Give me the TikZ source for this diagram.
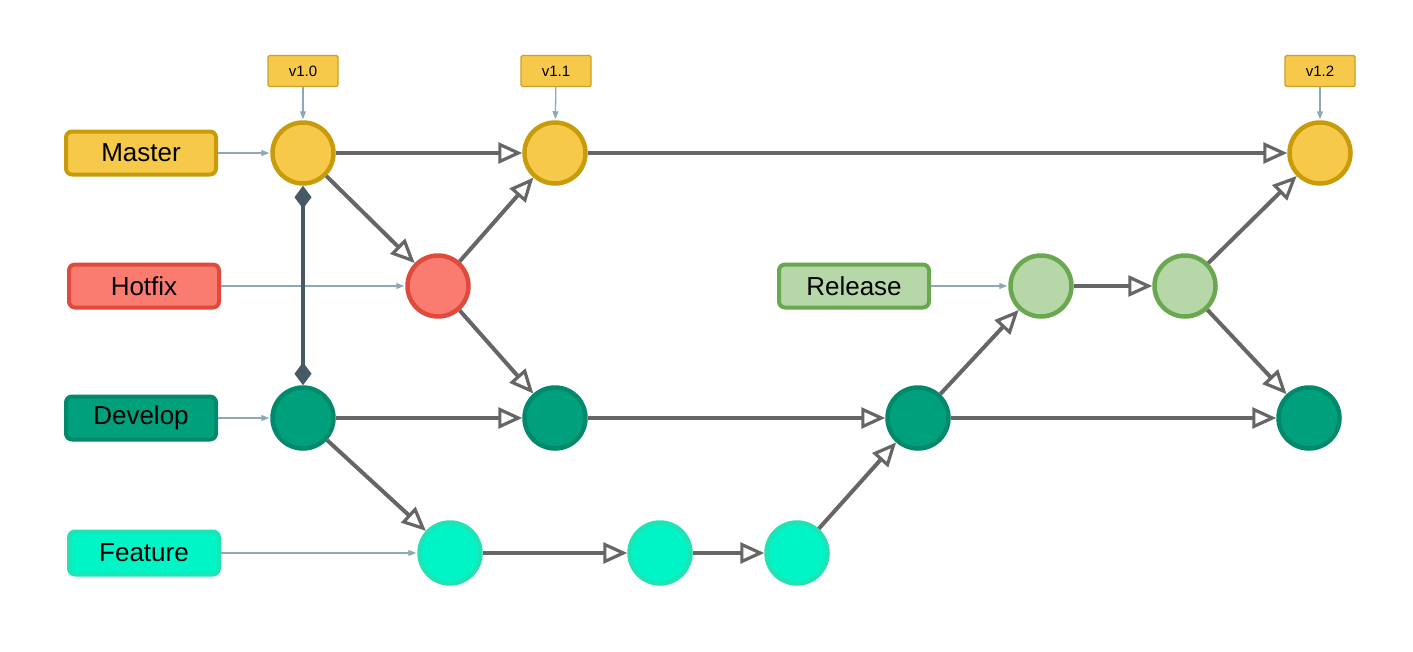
\documentclass[tikz,border=0pt]{standalone}
\usepackage{fontspec}
\setmainfont{Liberation Sans}
\usetikzlibrary{arrows.meta}

\definecolor{masterfill}{HTML}{F6C94B}
\definecolor{masterline}{HTML}{C89B0A}
\definecolor{hotfixfill}{HTML}{FA7B70}
\definecolor{hotfixline}{HTML}{E04A3C}
\definecolor{devfill}{HTML}{00A07C}
\definecolor{devline}{HTML}{00896A}
\definecolor{featfill}{HTML}{00F5C6}
\definecolor{featline}{HTML}{1FE3B5}
\definecolor{relfill}{HTML}{B6D7A8}
\definecolor{relline}{HTML}{6AA84F}
\definecolor{tagline}{HTML}{C9A227}
\definecolor{flowgray}{HTML}{666666}
\definecolor{pointer}{HTML}{8FA8B8}
\definecolor{slate}{HTML}{455A64}

\tikzset{
  branch/.style={draw, rounded corners=6pt, line width=4pt, minimum width=150pt,
    minimum height=43pt, font=\fontsize{26}{30}\selectfont, inner sep=0pt},
  tagbox/.style={draw=tagline, fill=masterfill, line width=1.4pt, rounded corners=1.5pt,
    minimum width=70pt, minimum height=31pt, font=\fontsize{15}{17}\selectfont, inner sep=0pt},
  commit/.style={circle, draw, line width=4.5pt, minimum size=61pt, inner sep=0pt},
  flow/.style={draw=flowgray, line width=4pt,
    -{Triangle[open, length=24pt, width=21pt, line width=3.2pt]}},
  ptr/.style={draw=pointer, line width=1.3pt, -{Triangle[length=8pt, width=6pt]}, shorten >=1pt},
  link/.style={draw=slate, line width=3.5pt, {Diamond[length=23pt, width=17pt]}-{Diamond[length=23pt, width=17pt]}}
}

\begin{document}
\begin{tikzpicture}[x=1pt, y=-1pt]
\useasboundingbox (0,0) rectangle (1413,651);

% branch labels
\node[branch, fill=masterfill, draw=masterline] (lmaster) at (141,153) {Master};
\node[branch, fill=hotfixfill, draw=hotfixline] (lhotfix) at (144,286) {Hotfix};
\node[branch, fill=devfill, draw=devline] (ldevelop) at (141,418) {Develop};
\node[branch, fill=featfill, draw=featline] (lfeature) at (144,553) {Feature};
\node[branch, fill=relfill, draw=relline] (lrelease) at (854,286) {Release};

% version tags
\node[tagbox] (t10) at (303,71) {v1.0};
\node[tagbox] (t11) at (556,71) {v1.1};
\node[tagbox] (t12) at (1320,71) {v1.2};

% commits
\node[commit, fill=masterfill, draw=masterline] (m1) at (303,153) {};
\node[commit, fill=masterfill, draw=masterline] (m2) at (555,153) {};
\node[commit, fill=masterfill, draw=masterline] (m3) at (1320,153) {};
\node[commit, fill=hotfixfill, draw=hotfixline] (h1) at (438,286) {};
\node[commit, fill=devfill, draw=devline] (d1) at (303,418) {};
\node[commit, fill=devfill, draw=devline] (d2) at (555,418) {};
\node[commit, fill=devfill, draw=devline] (d3) at (918,418) {};
\node[commit, fill=devfill, draw=devline] (d4) at (1309,418) {};
\node[commit, fill=featfill, draw=featline] (f1) at (450,553) {};
\node[commit, fill=featfill, draw=featline] (f2) at (660,553) {};
\node[commit, fill=featfill, draw=featline] (f3) at (797,553) {};
\node[commit, fill=relfill, draw=relline] (r1) at (1041,286) {};
\node[commit, fill=relfill, draw=relline] (r2) at (1185,286) {};

% pointers from labels and tags
\draw[ptr] (lmaster) -- (m1);
\draw[ptr] (lhotfix) -- (h1);
\draw[ptr] (ldevelop) -- (d1);
\draw[ptr] (lfeature) -- (f1);
\draw[ptr] (lrelease) -- (r1);
\draw[ptr] (t10) -- (m1);
\draw[ptr] (t11) -- (m2);
\draw[ptr] (t12) -- (m3);

% master / develop link
\draw[link] (m1) -- (d1);

% commit flow
\draw[flow] (m1) -- (m2);
\draw[flow] (m2) -- (m3);
\draw[flow] (m1) -- (h1);
\draw[flow] (h1) -- (m2);
\draw[flow] (h1) -- (d2);
\draw[flow] (d1) -- (d2);
\draw[flow] (d2) -- (d3);
\draw[flow] (d3) -- (d4);
\draw[flow] (d1) -- (f1);
\draw[flow] (f1) -- (f2);
\draw[flow] (f2) -- (f3);
\draw[flow] (f3) -- (d3);
\draw[flow] (d3) -- (r1);
\draw[flow] (r1) -- (r2);
\draw[flow] (r2) -- (m3);
\draw[flow] (r2) -- (d4);
\end{tikzpicture}
\end{document}
